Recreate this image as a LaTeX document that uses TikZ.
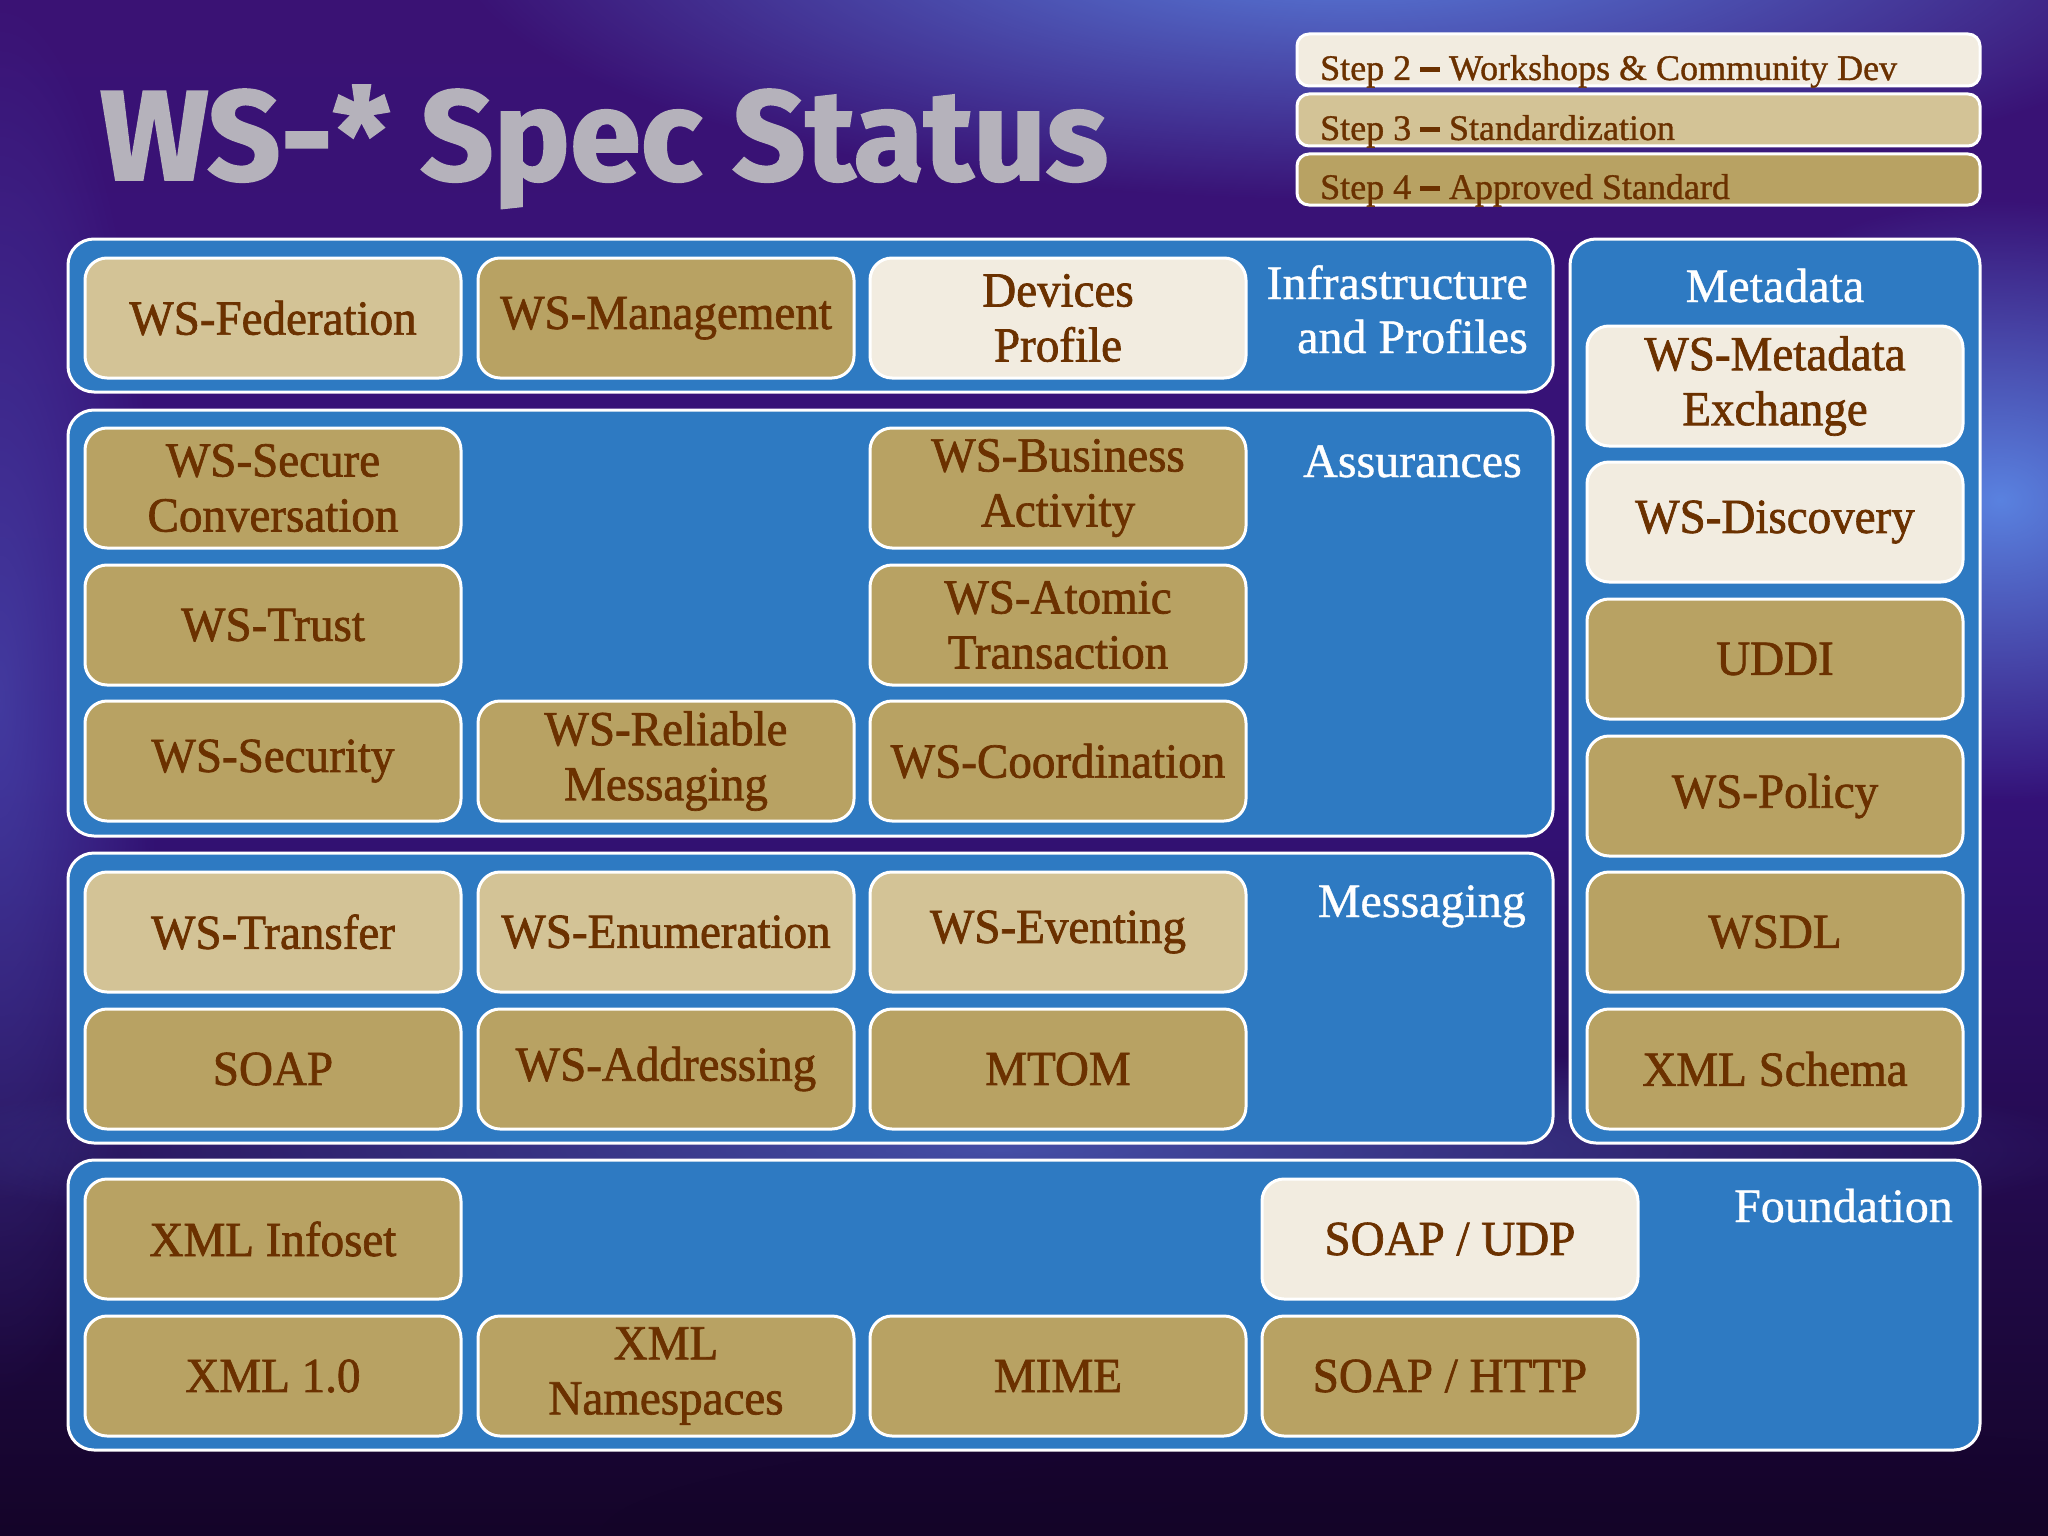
\documentclass[tikz,border=0pt]{standalone}
\usepackage{fontspec}
\setmainfont{Liberation Serif}
\newfontfamily\boxfont{Liberation Serif}[FakeStretch=0.96,FakeBold=1.4]
\newfontfamily\legfont{Liberation Serif}[FakeStretch=1.0,FakeBold=1.0]
\newfontfamily\lblfont{Liberation Serif}[FakeStretch=1.0,FakeBold=0.8]
\newfontfamily\titlefont{Fira Sans}[FakeStretch=1.0,FakeBold=1.5]
\usetikzlibrary{fadings}
\tikzfading[name=glowfade, inner color=transparent!0, outer color=transparent!100]
\definecolor{bgtop}{HTML}{3A1274}
\definecolor{bgmid}{HTML}{35127A}
\definecolor{bgbot}{HTML}{140428}
\definecolor{glowblue}{HTML}{5A82E0}
\definecolor{panelblue}{HTML}{2E7AC2}
\definecolor{stepdark}{HTML}{B8A263}
\definecolor{stepmid}{HTML}{D3C396}
\definecolor{steplight}{HTML}{F2ECE0}
\definecolor{txtbrown}{HTML}{6B3100}
\definecolor{titlegrey}{HTML}{B5B2BB}
\newcommand{\stepdash}{\rule[0.22em]{0.55em}{0.13em}}
\tikzset{
  panel/.style={draw=white, line width=3pt, fill=panelblue, rounded corners=26pt},
  specbox/.style={draw=white, line width=3pt, rounded corners=22pt,
    minimum width=376pt, minimum height=120pt, inner sep=0pt,
    align=center, text=txtbrown, font=\boxfont\fontsize{49}{55}\selectfont},
  dk/.style={specbox, fill=stepdark},
  md/.style={specbox, fill=stepmid},
  lt/.style={specbox, fill=steplight},
  legendbox/.style={draw=white, line width=3pt, rounded corners=12pt},
  legendtext/.style={anchor=base west, text=txtbrown, inner sep=0pt,
    font=\legfont\fontsize{36}{40}\selectfont},
  paneltext/.style={text=white, inner sep=0pt,
    font=\lblfont\fontsize{48}{54}\selectfont}
}
\begin{document}
\begin{tikzpicture}[x=1pt,y=-1pt]
\useasboundingbox (0,0) rectangle (2048,1536);
% background
\shade[top color=bgtop, bottom color=bgbot, middle color=bgmid] (0,0) rectangle (2048,1536);
\fill[glowblue, path fading=glowfade] (1350,-60) ellipse (900 and 260);
\fill[glowblue, path fading=glowfade] (2000,500) ellipse (380 and 300);
\fill[glowblue!80!bgmid, path fading=glowfade, opacity=0.7] (1000,1150) ellipse (1100 and 110);
\fill[glowblue!60!bgmid, path fading=glowfade, opacity=0.6] (0,700) ellipse (160 and 700);
\fill[bgbot, path fading=glowfade, opacity=0.6] (1500,1536) ellipse (900 and 120);

% title
\node[anchor=base west, inner sep=0pt, text=titlegrey,
  font=\titlefont\bfseries\fontsize{128}{140}\selectfont] (title) at (100,180) {WS-* Spec Status};

% legend
\draw[legendbox, fill=steplight] (1297,34) rectangle (1980,86);
\draw[legendbox, fill=stepmid] (1297,94) rectangle (1980,146);
\draw[legendbox, fill=stepdark] (1297,154) rectangle (1980,205);
\node[legendtext] (leg2) at (1320,80) {Step 2 \stepdash\ Workshops \& Community Dev};
\node[legendtext] (leg3) at (1320,140) {Step 3 \stepdash\ Standardization};
\node[legendtext] (leg4) at (1320,199) {Step 4 \stepdash\ Approved Standard};

% panels
\draw[panel] (68,239) rectangle (1553,392);
\draw[panel] (68,410) rectangle (1553,836);
\draw[panel] (68,853) rectangle (1553,1143);
\draw[panel] (1570,239) rectangle (1980,1143);
\draw[panel] (68,1160) rectangle (1980,1450);

% panel labels
\node[paneltext, anchor=base east] (lblinfraA) at (1528,299) {Infrastructure};
\node[paneltext, anchor=base east] (lblinfraB) at (1528,353) {and Profiles};
\node[paneltext, anchor=base east] (lblassur) at (1522,477) {Assurances};
\node[paneltext, anchor=base east] (lblmsg) at (1526,917) {Messaging};
\node[paneltext, anchor=base east] (lblfound) at (1953,1222) {Foundation};
\node[paneltext, anchor=base] (lblmeta) at (1775,302) {Metadata};

% infrastructure
\node[md] (fed) at (273,318) {WS-Federation};
\node[dk] (mgmt) at (666,318) {WS-Management};
\node[lt] (dev) at (1058,318) {Devices\\Profile};

% assurances
\node[dk] (secconv) at (273,488) {WS-Secure\\Conversation};
\node[dk] (busact) at (1058,488) {WS-Business\\Activity};
\node[dk] (trust) at (273,625) {WS-Trust};
\node[dk] (atomic) at (1058,625) {WS-Atomic\\Transaction};
\node[dk] (security) at (273,761) {WS-Security};
\node[dk] (relmsg) at (666,761) {WS-Reliable\\Messaging};
\node[dk] (coord) at (1058,761) {WS-Coordination};

% messaging
\node[md] (transfer) at (273,932) {WS-Transfer};
\node[md] (enum) at (666,932) {WS-Enumeration};
\node[md] (event) at (1058,932) {WS-Eventing};
\node[dk] (soap) at (273,1069) {SOAP};
\node[dk] (addr) at (666,1069) {WS-Addressing};
\node[dk] (mtom) at (1058,1069) {MTOM};

% foundation
\node[dk] (infoset) at (273,1239) {XML Infoset};
\node[lt] (soapudp) at (1450,1239) {SOAP / UDP};
\node[dk] (xml) at (273,1376) {XML 1.0};
\node[dk] (xmlns) at (666,1376) {XML\\Namespaces};
\node[dk] (mime) at (1058,1376) {MIME};
\node[dk] (soaphttp) at (1450,1376) {SOAP / HTTP};

% metadata
\node[lt] (mex) at (1775,386) {WS-Metadata\\Exchange};
\node[lt] (disc) at (1775,522) {WS-Discovery};
\node[dk] (uddi) at (1775,659) {UDDI};
\node[dk] (policy) at (1775,796) {WS-Policy};
\node[dk] (wsdl) at (1775,932) {WSDL};
\node[dk] (schema) at (1775,1069) {XML Schema};
\end{tikzpicture}
\end{document}
